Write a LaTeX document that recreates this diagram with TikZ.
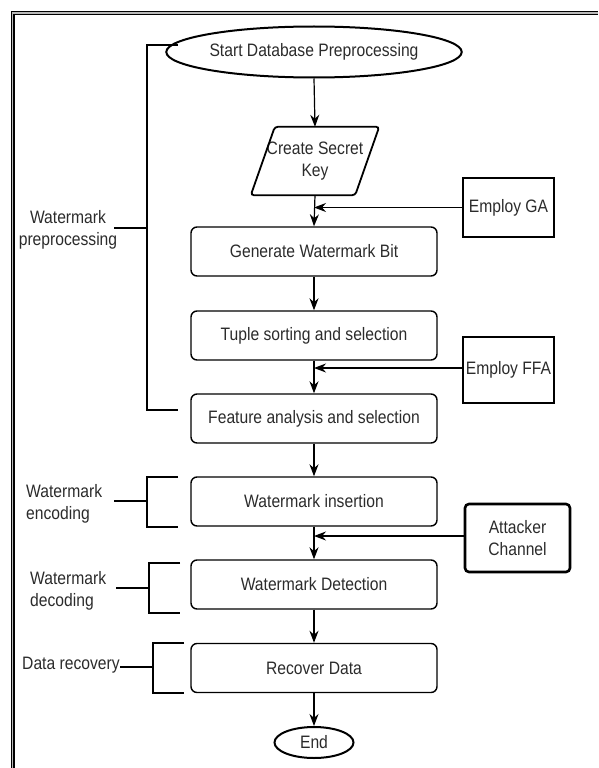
\documentclass[tikz,border=0pt]{standalone}
\usepackage{fontspec}
\setmainfont{Liberation Sans}[FakeStretch=0.87]
\usetikzlibrary{arrows.meta,shapes.geometric}
\definecolor{txt}{HTML}{2B2B2B}
\begin{document}
\begin{tikzpicture}[x=1pt,y=-1pt,
  every node/.style={font=\fontsize{18}{22}\selectfont,text=txt,inner sep=0pt},
  stepbox/.style={draw,line width=1.4pt,rounded corners=6pt,minimum width=246,minimum height=49},
  term/.style={draw,ellipse,line width=2pt},
  sidebox/.style={draw,line width=1.3pt,minimum width=91},
  lbl/.style={align=left,anchor=west},
  arr/.style={line width=1.2pt,-{Stealth[length=12pt,width=9pt]}},
  brk/.style={line width=2.8pt}]
\useasboundingbox (0,0) rectangle (598,768);
% frame on the left and on top
\draw[line width=4pt] (12.5,768) |- (598,13);\draw[gray!55,line width=1.4pt] (12.5,768) |- (598,13);
% main column
\node[term,minimum width=246,minimum height=51] (start) at (314,52) {Start Database Preprocessing};
\node[minimum width=128,minimum height=68,align=center] (key) at (315,161) {Create Secret\\Key};
\draw[line width=1.8pt,rounded corners=3pt] (key.south west) -- ([xshift=24]key.north west) -- (key.north east) -- ([xshift=-24]key.south east) -- cycle;
\node[stepbox] (gen) at (314,251.5) {Generate Watermark Bit};
\node[stepbox] (tup) at (314,335.5) {Tuple sorting and selection};
\node[stepbox] (feat) at (314,418.5) {Feature analysis and selection};
\node[stepbox] (ins) at (314,501.5) {Watermark insertion};
\node[stepbox] (det) at (314,584.5) {Watermark Detection};
\node[stepbox] (rec) at (314,668) {Recover Data};
\node[term,minimum width=79,minimum height=31] (end) at (314,742.5) {End};
% side inputs
\node[sidebox,minimum height=59] (ga) at (508.5,207.5) {Employ GA};
\node[sidebox,minimum height=66] (ffa) at (508.5,370) {Employ FFA};
\node[sidebox,minimum width=105,minimum height=68,line width=2.6pt,rounded corners=4pt,align=center] (att) at (517.5,538) {Attacker\\Channel};
\draw[arr] (start.south) -- (key.north);
\draw[arr] (key.south) -- (gen.north);
\draw[arr] (gen) -- (tup);\draw[arr] (tup) -- (feat);\draw[arr] (feat) -- (ins);
\draw[arr] (ins) -- (det);\draw[arr] (det) -- (rec);\draw[arr] (rec) -- (end);
\draw[arr] (ga.west) -- (ga.west -| gen.north);
\draw[arr] ([yshift=2]ffa.west) -- ([yshift=2]ffa.west -| feat.north);
\draw[arr] ([yshift=2]att.west) -- ([yshift=2]att.west -| det.north);
% stage labels and brackets
\node[align=center] (lblpre) at (68,230) {Watermark\\preprocessing};
\node[lbl] (lblenc) at (26,504) {Watermark\\encoding};
\node[lbl] (lbldec) at (30,591) {Watermark\\decoding};
\node[lbl] (lblrec) at (22,665) {Data recovery};
\foreach \v/\t/\b/\m/\s in {147/45/410/228/114,147/477/527/501/114,149/563/613/588/116,153/643/693/667/120}{\draw[brk] (\v+31,\t) -| (\v,\b) -- (\v+31,\b) (\s,\m) -- (\v,\m);}
\end{tikzpicture}
\end{document}
